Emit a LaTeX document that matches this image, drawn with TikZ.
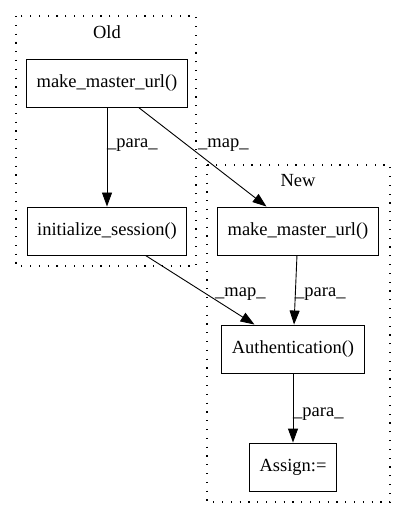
\documentclass[tikz,border=0pt]{standalone}
\usepackage{fontspec}
\setmainfont{Liberation Serif}
\usetikzlibrary{arrows.meta,positioning}
\definecolor{ink}{HTML}{000000}
\tikzset{
  fn/.style={draw=ink, line width=0.9pt, inner xsep=10pt, minimum height=48pt, font=\fontsize{18.5}{22}\selectfont},
  grp/.style={draw=ink, line width=1.1pt, dash pattern=on 1.2pt off 7.6pt},
  flow/.style={draw=ink, line width=0.9pt, -{Triangle[length=14pt,width=10pt]}},
  lab/.style={text=ink, font=\fontsize{18.5}{22}\selectfont, inner sep=0pt},
}

\begin{document}
\begin{tikzpicture}[x=1pt,y=-1pt]
\useasboundingbox (0,0) rectangle (405,518);

% clusters
\draw[grp] (16,16) rectangle (196,266);
\node[lab, anchor=base] (oldlab) at (107,39) {Old};
\draw[grp] (207,165) rectangle (390,502);
\node[lab, anchor=base] (newlab) at (298,187) {New};

% calls
\node[fn] (oldmake) at (107,83) {make\_master\_url()};
\node[fn] (init) at (107,231) {initialize\_session()};
\node[fn] (newmake) at (298,231) {make\_master\_url()};
\node[fn] (auth) at (293,349) {Authentication()};
\node[fn] (assign) at (293,467) {Assign:=};

% edges
\draw[flow] (oldmake) -- (init);
\draw[flow] (oldmake) -- (newmake);
\draw[flow] (init) -- (auth);
\draw[flow] (newmake) -- (auth);
\draw[flow] (auth) -- (assign);

% edge labels
\node[lab, anchor=base west] (p1) at (107,148) {\_para\_};
\node[lab, anchor=base west] (m1) at (198,148) {\_map\_};
\node[lab, anchor=base west] (m2) at (215,296) {\_map\_};
\node[lab, anchor=base west] (p2) at (295,296) {\_para\_};
\node[lab, anchor=base west] (p3) at (293,416) {\_para\_};
\end{tikzpicture}
\end{document}
